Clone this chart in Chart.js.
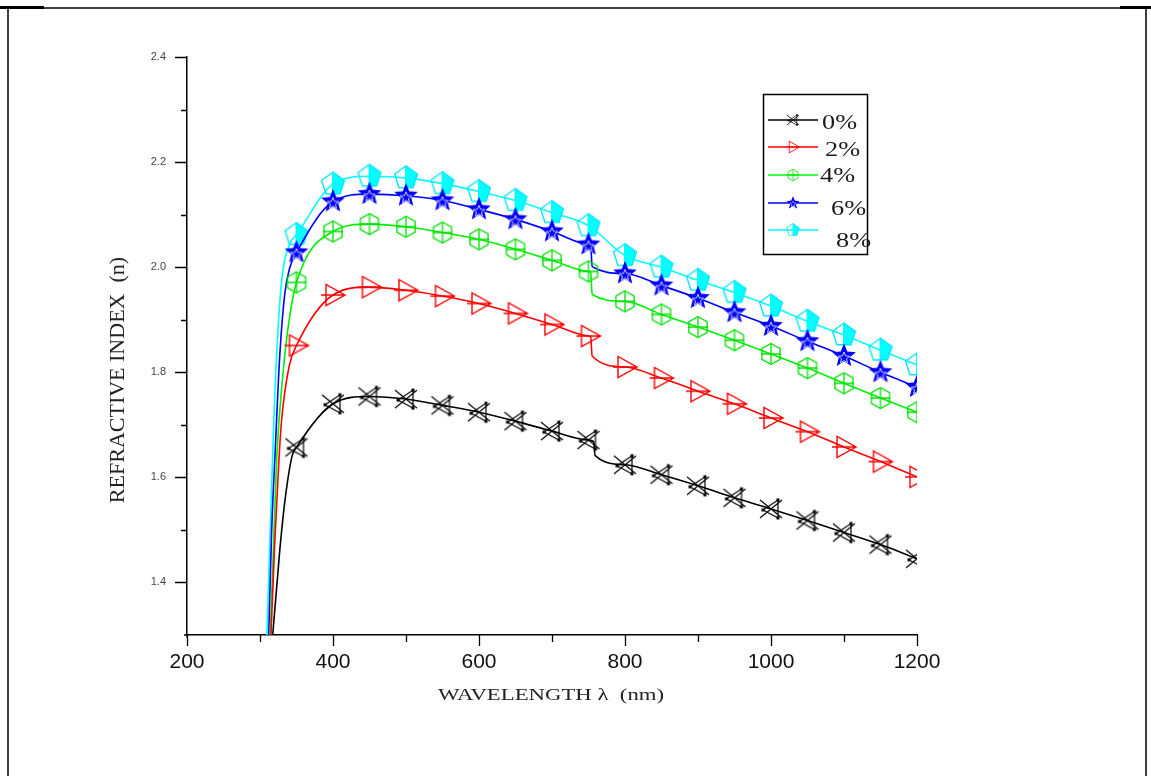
<!DOCTYPE html>
<html>
<head>
<meta charset="utf-8">
<title>Refractive index vs wavelength</title>
<script src="https://cdn.jsdelivr.net/npm/chart.js@4.4.1/dist/chart.umd.min.js"></script>
<style>
  html, body { margin: 0; padding: 0; background: #fff; }
  #wrap { position: relative; width: 1151px; height: 776px; }
</style>
</head>
<body>
<div id="wrap"><canvas id="c" width="1151" height="776"></canvas></div>
<script>
/* ---------- data ---------- */
var labels = ["0%", "2%", "4%", "6%", "8%"];
var colors = ["#000000", "#ff0000", "#00ff00", "#0000ff", "#00ffff"];

// markers every 50 nm from 350 to 1200
var markerWl = [350, 400, 450, 500, 550, 600, 650, 700, 750, 800, 850, 900, 950, 1000, 1050, 1100, 1150, 1200];
var n0 = [1.657, 1.740, 1.754, 1.749, 1.737, 1.724, 1.707, 1.688, 1.671, 1.624, 1.605, 1.584, 1.561, 1.540, 1.518, 1.495, 1.472, 1.445];
var n2 = [1.851, 1.947, 1.962, 1.956, 1.945, 1.931, 1.912, 1.891, 1.869, 1.810, 1.789, 1.764, 1.740, 1.713, 1.687, 1.658, 1.630, 1.601];
var n4 = [1.971, 2.068, 2.082, 2.077, 2.066, 2.053, 2.034, 2.013, 1.992, 1.935, 1.910, 1.886, 1.861, 1.835, 1.808, 1.779, 1.751, 1.724];
var n6 = [2.028, 2.125, 2.139, 2.136, 2.127, 2.110, 2.091, 2.068, 2.043, 1.988, 1.965, 1.941, 1.914, 1.888, 1.859, 1.831, 1.800, 1.772];
var n8 = [2.062, 2.158, 2.173, 2.170, 2.159, 2.144, 2.127, 2.104, 2.079, 2.022, 2.000, 1.975, 1.952, 1.926, 1.897, 1.871, 1.842, 1.814];

// steep rise below 350 nm (line only, no markers)
var rise0Wl = [312, 318, 327, 334, 344];  var rise0N = [1.20, 1.31, 1.46, 1.554, 1.641];
var rise2Wl = [311, 315, 320, 326, 330, 340]; var rise2N = [1.15, 1.30, 1.47, 1.635, 1.715, 1.812];
var rise4Wl = [310, 314, 318, 323, 331, 340]; var rise4N = [1.15, 1.30, 1.45, 1.64, 1.79, 1.90];
var rise6Wl = [309, 312, 316, 320.5, 327, 334, 341]; var rise6N = [1.15, 1.30, 1.50, 1.64, 1.83, 1.95, 2.00];
var rise8Wl = [307, 309.5, 314, 319, 325, 331, 341]; var rise8N = [1.15, 1.30, 1.50, 1.71, 1.89, 1.99, 2.045];

// small vertical drop just after 750 nm: [wl before, wl after], [n before, n after]
var step0Wl = [757, 759]; var step0N = [1.668, 1.642];
var step2Wl = [753, 755]; var step2N = [1.867, 1.831];
var step4Wl = [753, 755]; var step4N = [1.990, 1.948];
var step6Wl = [753, 755]; var step6N = [2.041, 2.001];

var yTicksMajor = [1.4, 1.6, 1.8, 2.0, 2.2, 2.4];
var xTicksMajor = [200, 400, 600, 800, 1000, 1200];

/* ---------- build point lists ---------- */
function build(riseWl, riseN, vals, stepWl, stepN) {
  var pts = [];
  riseWl.forEach(function (w, i) { pts.push({ x: w, y: riseN[i] }); });
  markerWl.forEach(function (w, i) {
    if (stepWl && w === 800) {
      pts.push({ x: stepWl[0], y: stepN[0] });
      pts.push({ x: stepWl[1], y: stepN[1] });
    }
    pts.push({ x: w, y: vals[i] });
  });
  return pts;
}

var series = [
  build(rise0Wl, rise0N, n0, step0Wl, step0N),
  build(rise2Wl, rise2N, n2, step2Wl, step2N),
  build(rise4Wl, rise4N, n4, step4Wl, step4N),
  build(rise6Wl, rise6N, n6, step6Wl, step6N),
  build(rise8Wl, rise8N, n8, null, null)
];

/* ---------- marker symbols ---------- */
function mk(size, draw) {
  var c = document.createElement("canvas");
  c.width = c.height = size;
  var g = c.getContext("2d");
  g.translate(size / 2, size / 2);
  draw(g);
  return c;
}
function starPath(g, ro, ri) {
  g.beginPath();
  for (var i = 0; i < 10; i++) {
    var r = i % 2 ? ri : ro;
    var a = -Math.PI / 2 + i * Math.PI / 5;
    g.lineTo(r * Math.cos(a), r * Math.sin(a));
  }
  g.closePath();
}
function polyPath(g, n, r) {
  g.beginPath();
  for (var i = 0; i < n; i++) {
    var a = -Math.PI / 2 + i * 2 * Math.PI / n;
    g.lineTo(r * Math.cos(a), r * Math.sin(a));
  }
  g.closePath();
}

var markers = [
  mk(28, function (g) {
    g.strokeStyle = "#000"; g.lineWidth = 1.2;
    g.beginPath();
    g.moveTo(-11, -9); g.lineTo(11, 9);
    g.moveTo(-11, 9); g.lineTo(11, -9);
    g.moveTo(7, -9); g.lineTo(7, 9); g.lineTo(-8, 1); g.closePath();
    g.stroke();
    g.fillStyle = "#000";
    [[7, -9], [7, 9], [-8, 1]].forEach(function (p) { g.fillRect(p[0] - 1.5, p[1] - 1.5, 3, 3); });
  }),
  mk(28, function (g) {
    g.strokeStyle = "#ff0000"; g.lineWidth = 1.4;
    g.beginPath();
    g.moveTo(-7, -10.5); g.lineTo(-7, 10.5); g.lineTo(12, 0); g.closePath();
    g.moveTo(-12, 0); g.lineTo(12, 0);
    g.stroke();
  }),
  mk(26, function (g) {
    g.strokeStyle = "#00e000"; g.lineWidth = 1.3;
    polyPath(g, 6, 10.5);
    g.stroke();
    g.beginPath();
    g.moveTo(-10, 0); g.lineTo(10, 0);
    g.moveTo(0, -10); g.lineTo(0, 10);
    g.stroke();
  }),
  mk(28, function (g) {
    g.fillStyle = "#0000ff";
    starPath(g, 12.5, 5.5);
    g.fill();
    g.strokeStyle = "#ffffff"; g.lineWidth = 0.8;
    g.save(); g.translate(0, 2); starPath(g, 6, 2.6); g.stroke(); g.restore();
  }),
  mk(28, function (g) {
    g.fillStyle = "#00ffff"; g.strokeStyle = "#00e5ff"; g.lineWidth = 1.4;
    g.save();
    g.beginPath(); g.rect(-1, -14, 15, 28); g.clip();
    polyPath(g, 5, 12); g.fill();
    g.restore();
    polyPath(g, 5, 12); g.stroke();
  })
];

/* ---------- helpers ---------- */
function stretchText(ctx, txt, x, y, sx, align) {
  ctx.save();
  ctx.translate(x, y);
  ctx.scale(sx, 1);
  ctx.textAlign = align || "center";
  ctx.fillText(txt, 0, 0);
  ctx.restore();
}

var decor = {
  id: "decor",
  beforeDraw: function (chart) {
    var ctx = chart.ctx;
    ctx.save();
    ctx.fillStyle = "#fff";
    ctx.fillRect(0, 0, chart.width, chart.height);
    // page frame
    ctx.strokeStyle = "#000";
    ctx.lineWidth = 1.5;
    ctx.beginPath();
    ctx.moveTo(8, 776); ctx.lineTo(8, 8); ctx.lineTo(1146, 8); ctx.lineTo(1146, 776);
    ctx.stroke();
    ctx.fillStyle = "#000";
    ctx.fillRect(0, 6, 44, 3);
    ctx.fillRect(1120, 6, 31, 3);
    ctx.restore();
  },
  afterDraw: function (chart) {
    var ctx = chart.ctx, xs = chart.scales.x, ys = chart.scales.y;
    var a = chart.chartArea;
    ctx.save();
    // ticks
    ctx.strokeStyle = "#000";
    ctx.lineWidth = 1.3;
    ctx.beginPath();
    for (var v = 1.4; v <= 2.401; v += 0.1) {
      var py = Math.round(ys.getPixelForValue(v)) + 0.5;
      var major = Math.round(v * 10) % 2 === 0;
      ctx.moveTo(a.left, py); ctx.lineTo(a.left - (major ? 12 : 6), py);
    }
    for (var w = 200; w <= 1200; w += 100) {
      var px = Math.round(xs.getPixelForValue(w)) + 0.5;
      ctx.moveTo(px, a.bottom); ctx.lineTo(px, a.bottom + (w % 200 === 0 ? 11 : 7));
    }
    // axis stubs beyond the corner
    ctx.moveTo(a.left - 3, a.bottom); ctx.lineTo(a.left, a.bottom);
    ctx.moveTo(a.left, a.bottom); ctx.lineTo(a.left, a.bottom + 3);
    ctx.stroke();

    // axis titles
    ctx.fillStyle = "#222";
    ctx.textBaseline = "middle";
    ctx.font = "22px 'Liberation Serif', 'Times New Roman', serif";
    ctx.save();
    ctx.translate(118, 380);
    ctx.rotate(-Math.PI / 2);
    ctx.textAlign = "center";
    ctx.fillText("REFRACTIVE INDEX  (n)", 0, 0);
    ctx.restore();
    ctx.font = "17.5px 'Liberation Serif', 'Times New Roman', serif";
    stretchText(ctx, "WAVELENGTH \u03bb  (nm)", 551, 695, 1.3, "center");

    // legend box
    ctx.lineWidth = 1.5;
    ctx.strokeStyle = "#000";
    ctx.strokeRect(763.5, 94.5, 104, 160);
    var rowsY = [120, 147, 175, 203, 230];
    var textX = [822, 825, 820, 831, 836];
    var textY = [123, 150, 176, 209, 241];
    ctx.font = "21px 'Liberation Serif', 'Times New Roman', serif";
    labels.forEach(function (lab, i) {
      ctx.strokeStyle = colors[i];
      ctx.lineWidth = 1.6;
      ctx.beginPath();
      ctx.moveTo(768, rowsY[i]); ctx.lineTo(818, rowsY[i]);
      ctx.stroke();
      var m = markers[i], k = 0.55;
      ctx.drawImage(m, 793 - m.width * k / 2, rowsY[i] - m.height * k / 2, m.width * k, m.height * k);
      ctx.fillStyle = "#1c1c1c";
      stretchText(ctx, lab, textX[i], textY[i], 1.25, "left");
    });
    ctx.restore();
  }
};

/* ---------- chart ---------- */
var datasets = series.map(function (pts, i) {
  return {
    label: labels[i],
    data: pts,
    borderColor: colors[i] === "#00ff00" ? "#00ee00" : colors[i],
    borderWidth: 1.6,
    backgroundColor: colors[i],
    pointStyle: markers[i],
    pointRadius: function (c) {
      var x = c.raw && c.raw.x;
      return markerWl.indexOf(x) >= 0 ? 10 : 0;
    },
    pointHoverRadius: 0,
    cubicInterpolationMode: "monotone",
    fill: false
  };
});

new Chart(document.getElementById("c"), {
  type: "line",
  data: { datasets: datasets },
  plugins: [decor],
  options: {
    responsive: false,
    animation: false,
    events: [],
    layout: { padding: { left: 0, top: 57, right: 234, bottom: 0 } },
    plugins: { legend: { display: false }, tooltip: { enabled: false } },
    scales: {
      x: {
        type: "linear",
        min: 200, max: 1200,
        afterFit: function (s) { s.height = 141; },
        grid: { display: false, drawTicks: false },
        border: { display: true, color: "#000", width: 1.5 },
        ticks: {
          stepSize: 200,
          padding: 15,
          color: "#111",
          font: { family: "'Liberation Sans', Arial, sans-serif", size: 21 },
          callback: function (v) { return xTicksMajor.indexOf(v) >= 0 ? String(v) : ""; }
        }
      },
      y: {
        type: "linear",
        min: 1.3, max: 2.4,
        afterFit: function (s) { s.width = 187; },
        afterBuildTicks: function (s) {
          s.ticks = yTicksMajor.map(function (v) { return { value: v }; });
        },
        grid: { display: false, drawTicks: false },
        border: { display: true, color: "#000", width: 1.5 },
        ticks: {
          padding: 21,
          color: "#444",
          font: { family: "'Liberation Sans', Arial, sans-serif", size: 11 },
          callback: function (v) { return Number(v).toFixed(1); }
        }
      }
    }
  }
});
</script>
</body>
</html>
